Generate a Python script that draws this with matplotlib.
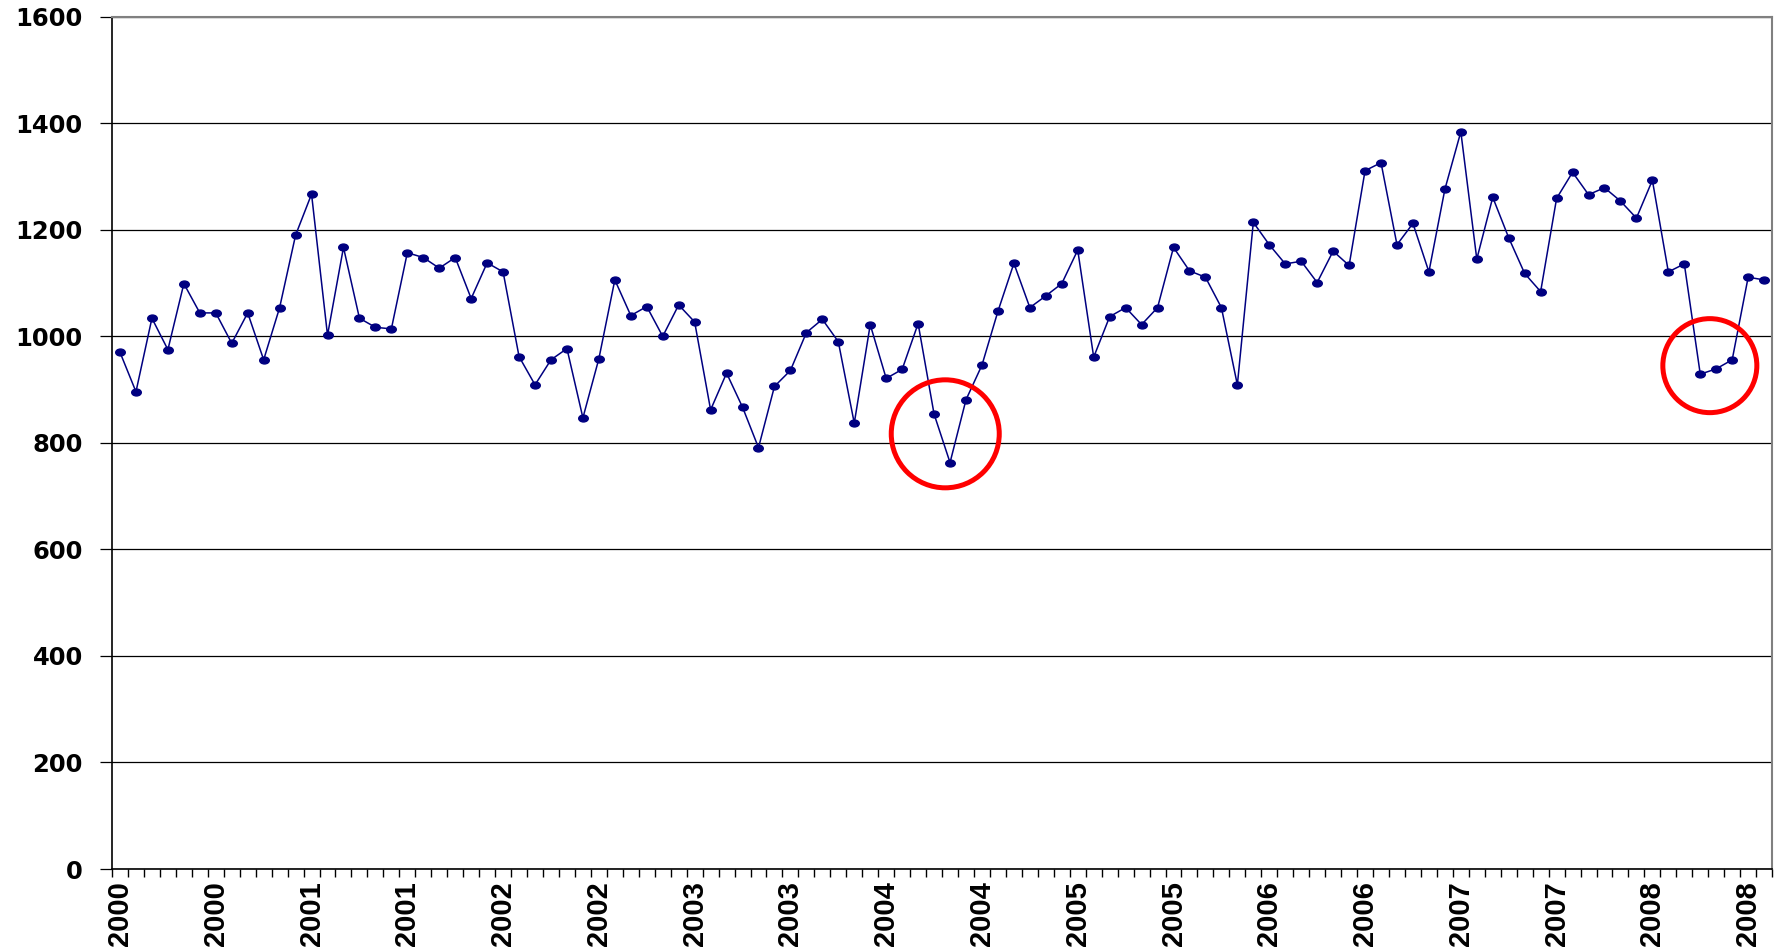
import matplotlib
matplotlib.use('Agg')
import matplotlib.pyplot as plt
from matplotlib.path import Path
from matplotlib.patches import Ellipse
from matplotlib.font_manager import FontProperties

# monthly values, Jan 2000 .. Aug 2008
values = [970, 896, 1034, 975, 1099, 1044, 1044, 987, 1044, 956, 1054, 1190,
          1267, 1002, 1167, 1034, 1017, 1014, 1157, 1148, 1128, 1148, 1071, 1138,
          1121, 962, 909, 956, 977, 847, 958, 1106, 1039, 1056, 1000, 1059,
          1027, 862, 931, 867, 791, 906, 936, 1007, 1032, 990, 837, 1022,
          921, 938, 1024, 854, 763, 881, 946, 1047, 1137, 1054, 1076, 1099,
          1162, 961, 1037, 1054, 1022, 1054, 1167, 1123, 1111, 1054, 909, 1214,
          1172, 1136, 1141, 1101, 1160, 1133, 1311, 1326, 1172, 1212, 1121, 1276,
          1384, 1145, 1261, 1185, 1118, 1084, 1259, 1308, 1266, 1279, 1254, 1222,
          1293, 1121, 1136, 929, 939, 956, 1111, 1106]
tick_labels = ['2000', '2000', '2001', '2001', '2002', '2002', '2003', '2003',
               '2004', '2004', '2005', '2005', '2006', '2006', '2007', '2007',
               '2008', '2008']
label_step = 6

# highlighted dips: (category position, value) and radius in pixels
circle_centers = [(51.7, 817), (99.6, 945)]
circle_radii = [54, 47]

fig = plt.figure(figsize=(17.81, 9.51), dpi=100)
ax = fig.add_axes([0.0629, 0.0862, 0.9950 - 0.0629, 0.9824 - 0.0862])

x = list(range(len(values)))
circ = Path.unit_circle()
dot = Path(circ.vertices * [1.0, 0.72], circ.codes)
ax.plot(x, values, color='#000080', linewidth=1.1, marker=dot, markersize=6.9,
        markerfacecolor='#000080', markeredgecolor='#000080', zorder=3)

ax.set_xlim(-0.5, len(values) - 0.5)
ax.set_ylim(0, 1600)
ax.set_yticks(range(0, 1601, 200))
ax.yaxis.grid(True, color='black', linewidth=0.9)
ax.set_axisbelow(True)

# tick marks between months, year labels every 6 months
ax.set_xticks([i - 0.5 for i in range(len(values) + 1)], labels=[])
ax.set_xticks([i * label_step for i in range(len(tick_labels))], labels=tick_labels, minor=True)
ax.tick_params(axis='x', which='major', direction='out', length=5.8, width=1.0, color='black')
ax.tick_params(axis='x', which='minor', length=0, pad=8.5)
ax.tick_params(axis='y', direction='out', length=8.6, width=0.9, color='black', pad=12.5)

xfont = FontProperties(family='Liberation Sans', weight='bold', size=21)
yfont = FontProperties(family='DejaVu Sans', weight='bold', size=17.5)
for lab in ax.get_xticklabels(minor=True):
    lab.set_fontproperties(xfont)
    lab.set_rotation(90)
for lab in ax.get_yticklabels():
    lab.set_fontproperties(yfont)

ax.spines['left'].set_color('black')
ax.spines['left'].set_linewidth(1.2)
ax.spines['bottom'].set_color('black')
ax.spines['bottom'].set_linewidth(1.2)
ax.spines['top'].set_color('#808080')
ax.spines['top'].set_linewidth(1.5)
ax.spines['right'].set_color('#808080')
ax.spines['right'].set_linewidth(1.5)

# red circles, kept round in pixels
bbox = ax.get_window_extent()
px_x = bbox.width / (len(values))
px_y = bbox.height / 1600
for (cx, cy), r in zip(circle_centers, circle_radii):
    ax.add_patch(Ellipse((cx, cy), 2 * r / px_x, 2 * r / px_y, fill=False,
                         edgecolor='#ff0000', linewidth=3.6, zorder=4))

fig.savefig('out.png', dpi=100)
